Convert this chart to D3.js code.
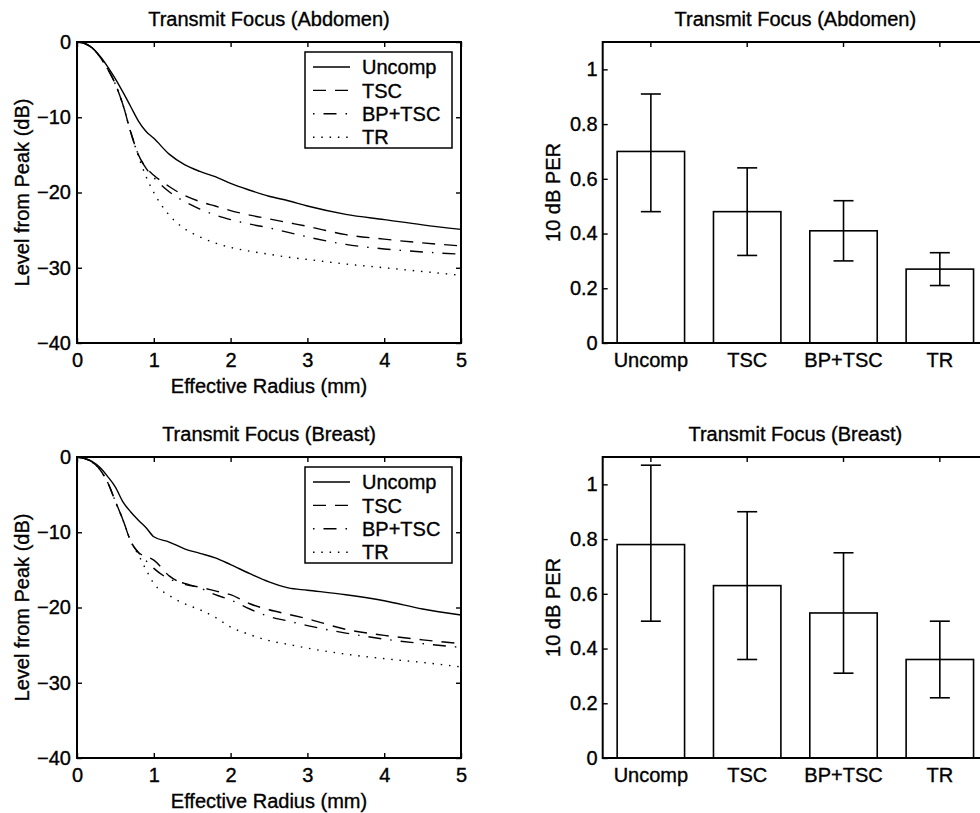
<!DOCTYPE html>
<html>
<head>
<meta charset="utf-8">
<script src="https://cdn.jsdelivr.net/npm/d3@7"></script>
<style>
  body { margin: 0; background: #fff; }
  svg { display: block; font-family: "Liberation Sans", Arial, Helvetica, sans-serif; }
  svg text { stroke: #000; stroke-width: 0.35px; fill: #000; }
</style>
</head>
<body>
<script>
// radius samples (mm) shared by all curves
const radius = [0, 0.1, 0.2, 0.3, 0.4, 0.5, 0.6, 0.7, 0.8, 0.9, 1.0, 1.2, 1.4, 1.6, 1.8, 2.0, 2.25, 2.5, 2.75, 3.0, 3.5, 4.0, 4.5, 5.0]

// abdomen curves (dB)
const abdUncomp = [0, -0.2, -0.8, -1.9, -3.3, -4.9, -6.7, -8.6, -10.5, -11.9, -12.8, -14.9, -16.3, -17.2, -17.9, -18.8, -19.7, -20.5, -21.1, -21.8, -22.9, -23.6, -24.3, -24.9]
const abdTSC = [0, -0.2, -0.8, -2.0, -3.6, -5.6, -8.4, -12.0, -15.0, -16.7, -17.7, -19.2, -20.4, -21.2, -21.8, -22.4, -23.0, -23.5, -24.0, -24.5, -25.6, -26.2, -26.7, -27.1]
const abdBP = [0, -0.2, -0.8, -2.0, -3.6, -5.6, -8.4, -12.0, -15.0, -16.8, -18.0, -19.9, -21.2, -22.2, -23.0, -23.6, -24.2, -24.7, -25.3, -25.9, -26.9, -27.5, -27.9, -28.2]
const abdTR = [0, -0.2, -0.8, -2.0, -3.6, -5.6, -8.4, -12.0, -15.2, -17.9, -20.0, -23.0, -24.8, -25.9, -26.7, -27.3, -27.8, -28.2, -28.6, -28.9, -29.5, -30.0, -30.5, -31.0]

// breast curves (dB)
const breUncomp = [0, -0.2, -0.6, -1.4, -2.6, -4.0, -6.0, -7.3, -8.4, -9.4, -10.6, -11.3, -12.2, -12.8, -13.4, -14.3, -15.5, -16.6, -17.4, -17.7, -18.3, -19.1, -20.2, -21.0]
const breTSC = [0, -0.2, -0.7, -1.7, -3.4, -5.9, -8.4, -11.2, -12.7, -13.2, -13.7, -15.8, -16.9, -17.3, -17.8, -18.3, -19.5, -20.3, -20.9, -21.5, -22.9, -23.7, -24.3, -24.8]
const breBP = [0, -0.2, -0.7, -1.7, -3.4, -5.9, -8.4, -11.2, -12.7, -13.8, -14.8, -16.2, -16.8, -17.4, -18.3, -19.0, -20.2, -21.2, -21.8, -22.4, -23.4, -24.2, -24.8, -25.3]
const breTR = [0, -0.2, -0.7, -1.7, -3.4, -5.9, -8.4, -11.2, -13.0, -15.0, -16.8, -18.4, -19.5, -20.3, -21.3, -22.6, -23.6, -24.4, -24.9, -25.4, -26.2, -26.8, -27.3, -27.9]

const methods = ["Uncomp", "TSC", "BP+TSC", "TR"]
const dashes = ["none", "13,9", "1.5,9,13,9", "1.5,6.8"]

// 10 dB PER bars with error limits
const abdPER = [0.70, 0.48, 0.41, 0.27]
const abdLow = [0.48, 0.32, 0.30, 0.21]
const abdHigh = [0.91, 0.64, 0.52, 0.33]
const brePER = [0.78, 0.63, 0.53, 0.36]
const breLow = [0.50, 0.36, 0.31, 0.22]
const breHigh = [1.07, 0.90, 0.75, 0.50]

const radiusTicks = [0, 1, 2, 3, 4, 5]
const levelTicks = [0, -10, -20, -30, -40]
const perTicks = [0, 0.2, 0.4, 0.6, 0.8, 1]

const fs = 20
const svg = d3.select("body").append("svg").attr("width", 980).attr("height", 813)
svg.append("rect").attr("width", 980).attr("height", 813).attr("fill", "#fff")

const minus = (s) => String(s).replace("-", "\u2212")

function styleAxis(g) {
  g.select(".domain").remove()
  g.selectAll("line").attr("stroke", "#000").attr("stroke-width", 1.4)
  g.selectAll("text").attr("font-size", fs).attr("font-family", null)
}

function linePanel(top, title, curves) {
  const x0 = 77, x1 = 461, bottom = top + 301
  const x = d3.scaleLinear().domain([0, 5]).range([x0, x1])
  const y = d3.scaleLinear().domain([-40, 0]).range([bottom, top])
  const g = svg.append("g")

  g.append("g").attr("transform", `translate(0,${bottom})`)
    .call(d3.axisBottom(x).tickValues(radiusTicks).tickSize(-5).tickPadding(10).tickFormat(d3.format("d")))
    .call(styleAxis)
  g.append("g").attr("transform", `translate(0,${top})`)
    .call(d3.axisTop(x).tickValues(radiusTicks).tickSize(-5).tickFormat(""))
    .call(styleAxis)
  g.append("g").attr("transform", `translate(${x0},0)`)
    .call(d3.axisLeft(y).tickValues(levelTicks).tickSize(-5).tickPadding(6).tickFormat((d) => minus(d)))
    .call(styleAxis)
  g.append("g").attr("transform", `translate(${x1},0)`)
    .call(d3.axisRight(y).tickValues(levelTicks).tickSize(-5).tickFormat(""))
    .call(styleAxis)

  const line = d3.line().x((d) => x(d[0])).y((d) => y(d[1])).curve(d3.curveMonotoneX)
  curves.forEach((vals, i) => {
    g.append("path")
      .datum(radius.map((r, k) => [r, vals[k]]))
      .attr("d", line)
      .attr("fill", "none")
      .attr("stroke", "#000")
      .attr("stroke-width", 1.4)
      .attr("stroke-dasharray", dashes[i])
  })

  g.append("rect").attr("x", x0).attr("y", top).attr("width", x1 - x0).attr("height", bottom - top)
    .attr("fill", "none").attr("stroke", "#000").attr("stroke-width", 2)

  // legend
  const lg = g.append("g").attr("transform", `translate(305,${top + 10})`)
  lg.append("rect").attr("width", 147).attr("height", 96).attr("fill", "#fff")
    .attr("stroke", "#000").attr("stroke-width", 1.5)
  methods.forEach((m, i) => {
    const yy = 15 + i * 23.4
    lg.append("line").attr("x1", 8).attr("x2", 45).attr("y1", yy).attr("y2", yy)
      .attr("stroke", "#000").attr("stroke-width", 1.4).attr("stroke-dasharray", dashes[i])
    lg.append("text").attr("x", 57).attr("y", yy).attr("dy", "0.36em")
      .attr("font-size", fs).text(m)
  })

  svg.append("text").attr("x", (x0 + x1) / 2).attr("y", top - 16)
    .attr("text-anchor", "middle").attr("font-size", fs).text(title)
  svg.append("text").attr("x", (x0 + x1) / 2).attr("y", bottom + 50)
    .attr("text-anchor", "middle").attr("font-size", fs).text("Effective Radius (mm)")
  svg.append("text").attr("transform", `translate(28.5,${(top + bottom) / 2}) rotate(-90)`)
    .attr("text-anchor", "middle").attr("font-size", fs).text("Level from Peak (dB)")
}

function barPanel(top, title, vals, low, high) {
  const x0 = 602.7, x1 = 988, bottom = top + 301
  const x = d3.scaleBand().domain(methods).range([x0, x1]).paddingInner(0.3).paddingOuter(0.15)
  const y = d3.scaleLinear().domain([0, 1.1]).range([bottom, top])
  const g = svg.append("g")

  g.append("g").attr("transform", `translate(0,${bottom})`)
    .call(d3.axisBottom(x).tickSize(-5).tickPadding(10))
    .call(styleAxis)
  g.append("g").attr("transform", `translate(0,${top})`)
    .call(d3.axisTop(x).tickSize(-5).tickFormat(""))
    .call(styleAxis)
  g.append("g").attr("transform", `translate(${x0},0)`)
    .call(d3.axisLeft(y).tickValues(perTicks).tickSize(-5).tickPadding(5).tickFormat((d) => String(d)))
    .call(styleAxis)

  g.selectAll(".bar").data(methods).enter().append("rect")
    .attr("x", (d) => x(d)).attr("width", x.bandwidth())
    .attr("y", (d, i) => y(vals[i])).attr("height", (d, i) => bottom - y(vals[i]))
    .attr("fill", "#fff").attr("stroke", "#000").attr("stroke-width", 1.6)

  const cx = (d) => x(d) + x.bandwidth() / 2
  const eb = g.selectAll(".err").data(methods).enter().append("g")
  eb.append("line").attr("x1", cx).attr("x2", cx)
    .attr("y1", (d, i) => y(low[i])).attr("y2", (d, i) => y(high[i]))
  eb.append("line").attr("x1", (d) => cx(d) - 10).attr("x2", (d) => cx(d) + 10)
    .attr("y1", (d, i) => y(high[i])).attr("y2", (d, i) => y(high[i]))
  eb.append("line").attr("x1", (d) => cx(d) - 10).attr("x2", (d) => cx(d) + 10)
    .attr("y1", (d, i) => y(low[i])).attr("y2", (d, i) => y(low[i]))
  eb.selectAll("line").attr("stroke", "#000").attr("stroke-width", 1.6)

  g.append("rect").attr("x", x0).attr("y", top).attr("width", x1 - x0).attr("height", bottom - top)
    .attr("fill", "none").attr("stroke", "#000").attr("stroke-width", 2)

  svg.append("text").attr("x", (x0 + x1) / 2).attr("y", top - 16)
    .attr("text-anchor", "middle").attr("font-size", fs).text(title)
  svg.append("text").attr("transform", `translate(560,${(top + bottom) / 2}) rotate(-90)`)
    .attr("text-anchor", "middle").attr("font-size", fs).text("10 dB PER")
}

linePanel(42, "Transmit Focus (Abdomen)", [abdUncomp, abdTSC, abdBP, abdTR])
barPanel(42, "Transmit Focus (Abdomen)", abdPER, abdLow, abdHigh)
linePanel(457, "Transmit Focus (Breast)", [breUncomp, breTSC, breBP, breTR])
barPanel(457, "Transmit Focus (Breast)", brePER, breLow, breHigh)
</script>
</body>
</html>
